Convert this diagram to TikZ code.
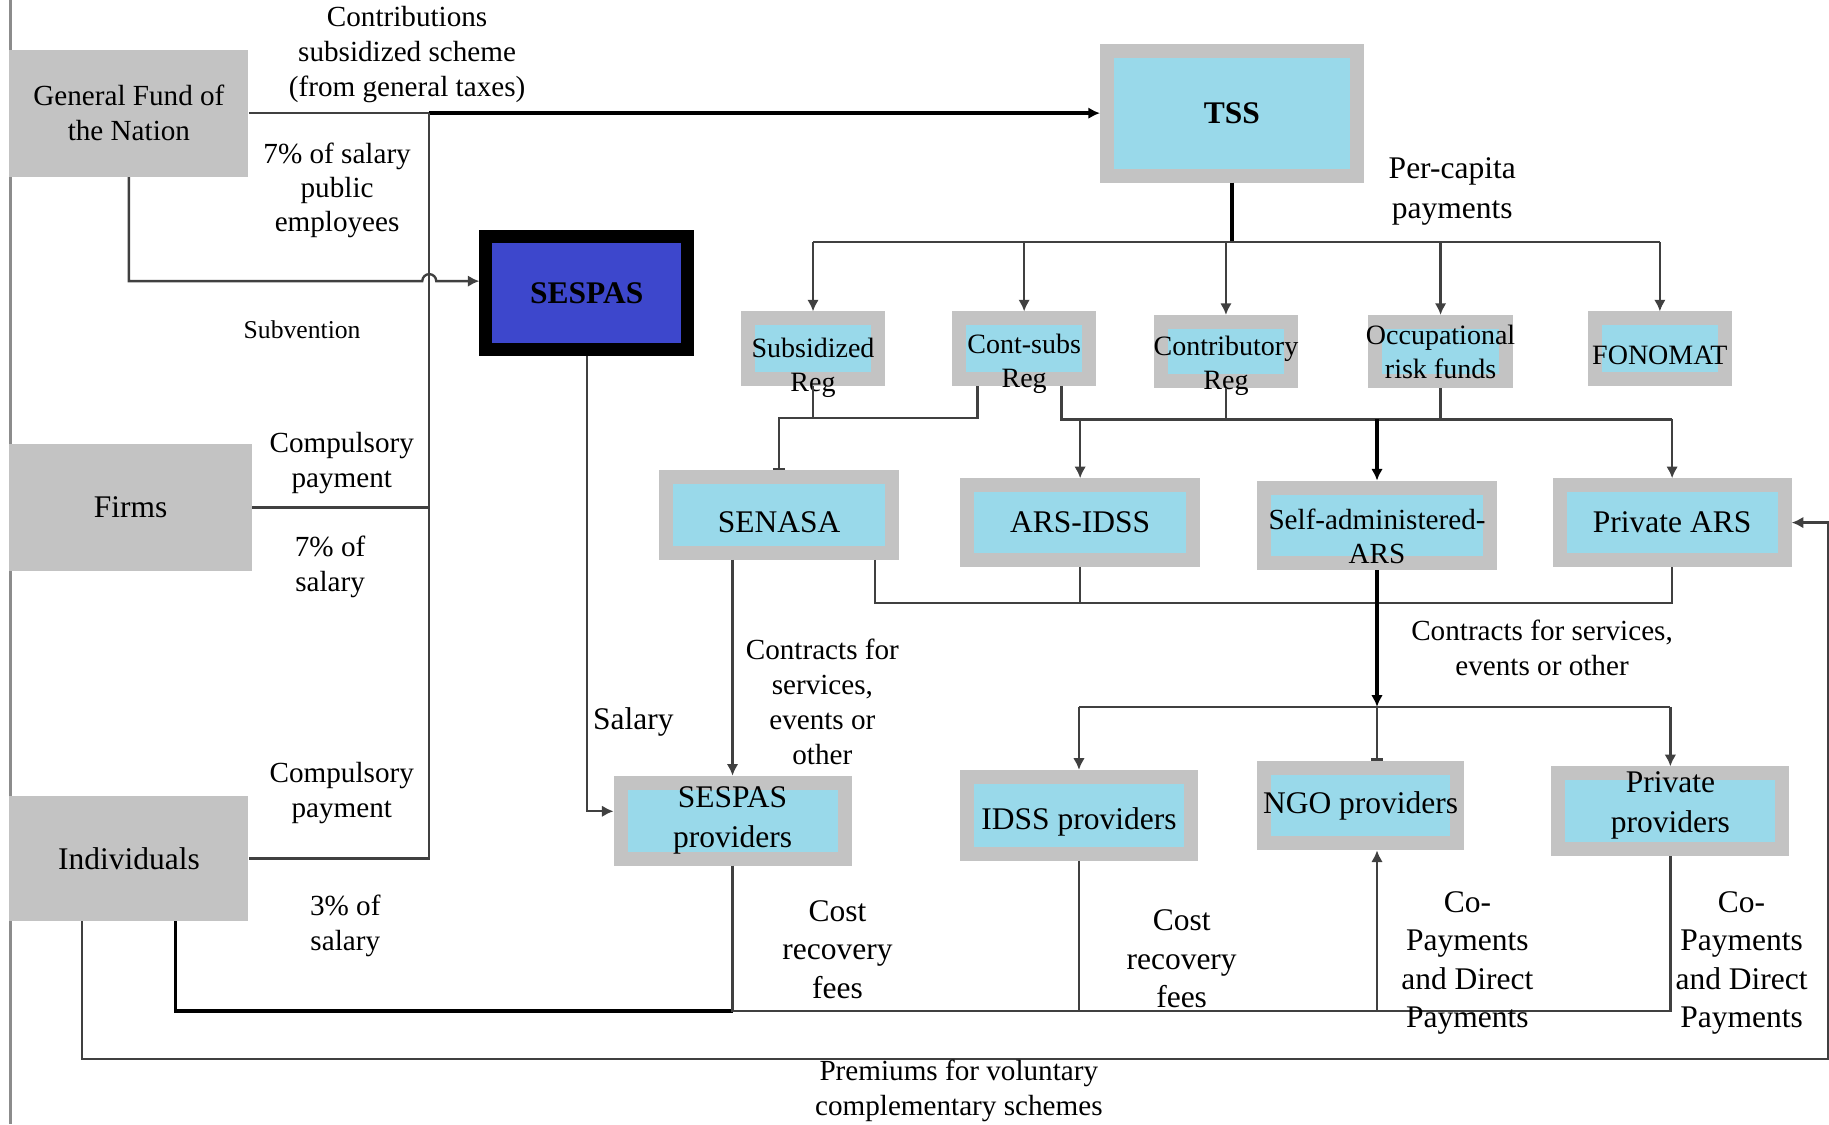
\documentclass[tikz,border=0pt]{standalone}
\usepackage{fontspec}
\setmainfont{Liberation Serif}
\usetikzlibrary{arrows.meta}
\definecolor{boxgray}{RGB}{195,195,195}
\definecolor{schemeblue}{RGB}{153,217,234}
\definecolor{sespasblue}{RGB}{61,71,204}
\definecolor{linegray}{RGB}{64,64,64}
\definecolor{edgegray}{RGB}{140,140,140}
\newcommand{\SchemeBox}[7]{% name x y width height label-options text
\node[scheme, minimum width=#4*0.5pt-6pt, minimum height=#5*0.5pt-6pt,
  label={[boxlabel,#6]center:{#7}}] (#1) at (#2,#3) {};
}

\begin{document}
\begin{tikzpicture}[x=0.5pt,y=-0.5pt,
  fund/.style={fill=boxgray, inner sep=0pt, align=center},
  scheme/.style={draw=boxgray, line width=6pt, fill=schemeblue, inner sep=0pt},
  boxlabel/.style={align=center, inner sep=0pt, font=\fontsize{13.5}{17}\selectfont},
  smalltext/.style={font=\fontsize{12}{14.5}\selectfont},
  note/.style={align=center, inner sep=0pt, font=\fontsize{12.5}{15}\selectfont},
  bignote/.style={align=center, inner sep=0pt, font=\fontsize{13.5}{16.5}\selectfont},
  flow/.style={draw=linegray, line width=1pt},
  heavy/.style={draw=black, line width=1.6pt},
  arrowed/.style={-{Latex[length=5pt,width=5pt]}},
  barend/.style={-{Bar[width=5pt]}}]
\useasboundingbox (0,0) rectangle (1568,964);
% left margin rule
\draw[edgegray, line width=1.5pt] (9,0) -- (9,964);
% sources of funds
\node[fund, minimum width=102.5pt, minimum height=54.5pt, font=\fontsize{12.5}{15}\selectfont] (gf) at (110.5,97) {General Fund of\\the Nation};
\node[fund, minimum width=104pt, minimum height=54.5pt, font=\fontsize{13.5}{17}\selectfont] (firms) at (112,435) {Firms};
\node[fund, minimum width=102.5pt, minimum height=53.5pt, font=\fontsize{13.5}{17}\selectfont] (ind) at (110.5,736) {Individuals};
\node[draw=black, line width=5.5pt, fill=sespasblue, inner sep=0pt, minimum width=86.5pt, minimum height=48.5pt, font=\bfseries\fontsize{13.5}{17}\selectfont] (sespas) at (503,251) {SESPAS};
\SchemeBox{tss}{1056}{97}{226}{119}{font=\bfseries\fontsize{13.5}{17}\selectfont}{TSS}
% regimes
\SchemeBox{subsreg}{697}{299}{124}{64}{smalltext,yshift=-8pt}{Subsidized\\Reg}
\SchemeBox{contsubs}{878}{299}{124}{64}{smalltext,yshift=-6.5pt}{Cont-subs\\Reg}
\SchemeBox{contreg}{1051}{301.5}{124}{63}{smalltext,yshift=-6pt}{Contributory\\Reg}
\SchemeBox{occrisk}{1235}{301.5}{124}{63}{smalltext}{Occupational\\risk funds}
\SchemeBox{fonomat}{1423}{299}{124}{64}{smalltext,yshift=-3pt}{FONOMAT}
% insurers
\SchemeBox{senasa}{668}{441.5}{206}{77}{yshift=-3pt}{SENASA}
\SchemeBox{arsidss}{926}{448}{206}{76}{}{ARS-IDSS}
\SchemeBox{selfars}{1180.5}{450.5}{205}{77}{font=\fontsize{12.5}{14.5}\selectfont,yshift=-4.5pt}{Self-administered-\\ARS}
\SchemeBox{privars}{1433.5}{448}{205}{76}{}{Private ARS}
% providers
\SchemeBox{sespasprov}{628}{703.5}{204}{77}{}{SESPAS\\providers}
\SchemeBox{idssprov}{925}{699}{204}{78}{yshift=-3pt}{IDSS providers}
\SchemeBox{ngoprov}{1166.5}{690.5}{177}{77}{}{NGO providers}
\SchemeBox{privprov}{1432}{695.5}{204}{77}{yshift=2.5pt}{Private\\providers}
% general fund, firms and individuals
\coordinate (gfjoin) at (368,97);
\draw[flow] (gf.east) -- (gfjoin);
\draw[heavy,arrowed] (gfjoin) -- (tss.west);
\draw[flow] (ind.east) -- (ind.east -| gfjoin) -- (gfjoin);
\draw[flow] (firms.east) -- (firms.east -| gfjoin);
\draw[flow,arrowed] (gf.south) |- (362,241) arc[start angle=180,end angle=0,radius=3pt] -- ([yshift=5pt]sespas.west);
% TSS to the regimes
\draw[heavy] (tss.south) -- ++(0,51) coordinate (tssbus);
\draw[flow] (tssbus -| subsreg.north) -- (tssbus -| fonomat.north);
\foreach \regime in {subsreg,contsubs,contreg,occrisk,fonomat}
  \draw[flow,arrowed] (tssbus -| \regime.north) -- (\regime.north);
% regimes to insurers
\draw[flow] (subsreg.south) -- ++(0,27.5) coordinate (subsjoin);
\draw[flow,barend] (contsubs.south -| 838,0) -- (838,0 |- subsjoin) -| (senasa.north);
\coordinate (arsbus) at (910,359.5);
\draw[flow] (contsubs.south -| arsbus) -- (arsbus) -- (arsbus -| privars.north);
\draw[flow] (contreg.south) -- (contreg.south |- arsbus);
\draw[flow] (occrisk.south) -- (occrisk.south |- arsbus);
\draw[flow,arrowed] (arsbus -| arsidss.north) -- (arsidss.north);
\draw[heavy,arrowed] (arsbus -| selfars.north) -- (selfars.north);
\draw[flow,arrowed] (arsbus -| privars.north) -- (privars.north);
% insurers to providers
\draw[flow,arrowed] (senasa.south -| sespasprov.north) -- (sespasprov.north);
\coordinate (provcon) at (750,517);
\draw[flow] (senasa.south -| provcon) |- (provcon -| privars.south) -- (privars.south);
\draw[flow] (arsidss.south) -- (arsidss.south |- provcon);
\coordinate (provbus) at (1180.5,606);
\draw[heavy,arrowed] (selfars.south) -- (provbus);
\draw[flow] (provbus -| idssprov.north) -- (provbus -| privprov.north);
\draw[flow,arrowed] (provbus -| idssprov.north) -- (idssprov.north);
\draw[flow,arrowed] (provbus -| privprov.north) -- (privprov.north);
\draw[flow,barend] (provbus) -- (provbus |- ngoprov.north);
\draw[flow,arrowed] (sespas.south) |- ([yshift=4pt]sespasprov.west);
% out-of-pocket payments
\coordinate (paybus) at (628,867);
\draw[heavy] ([xshift=20pt]ind.south) |- (paybus);
\draw[flow] (sespasprov.south) -- (paybus) -- (paybus -| privprov.south) -- (privprov.south);
\draw[flow] (idssprov.south) -- (idssprov.south |- paybus);
\draw[flow,arrowed] (paybus -| provbus) -- (ngoprov.south -| provbus);
\coordinate (premcorner) at (1567,908);
\draw[flow,arrowed] ([xshift=-20pt]ind.south) |- (premcorner) |- (privars.east);
% flow labels
\node[note] (contrib) at (349,47) {Contributions\\subsidized scheme\\(from general taxes)};
\node[note, font=\fontsize{12.5}{14.5}\selectfont] (pubemp) at (289,163) {7\% of salary\\public\\employees};
\node[note, font=\fontsize{11}{13}\selectfont] (subv) at (259,283) {Subvention};
\node[note] (firmpay) at (293,397) {Compulsory\\payment};
\node[note] (firmpct) at (283,486) {7\% of\\salary};
\node[note] (indpay) at (293,680) {Compulsory\\payment};
\node[note] (indpct) at (296,794) {3\% of\\salary};
\node[bignote, font=\fontsize{13.5}{17}\selectfont] (percap) at (1245,164) {Per-capita\\payments};
\node[bignote] (salary) at (543,619) {Salary};
\node[note] (contractl) at (705,602) {Contracts for\\services,\\events or\\other};
\node[note] (contractr) at (1322,555) {Contracts for services,\\events or other};
\node[bignote] (costl) at (718,814) {Cost\\recovery\\fees};
\node[bignote] (costr) at (1013,822) {Cost\\recovery\\fees};
\node[bignote] (copayl) at (1258,825.5) {Co-\\Payments\\and Direct\\Payments};
\node[bignote] (copayr) at (1493,825.5) {Co-\\Payments\\and Direct\\Payments};
\node[note] (premium) at (822,935) {Premiums for voluntary\\complementary schemes};
\end{tikzpicture}
\end{document}
